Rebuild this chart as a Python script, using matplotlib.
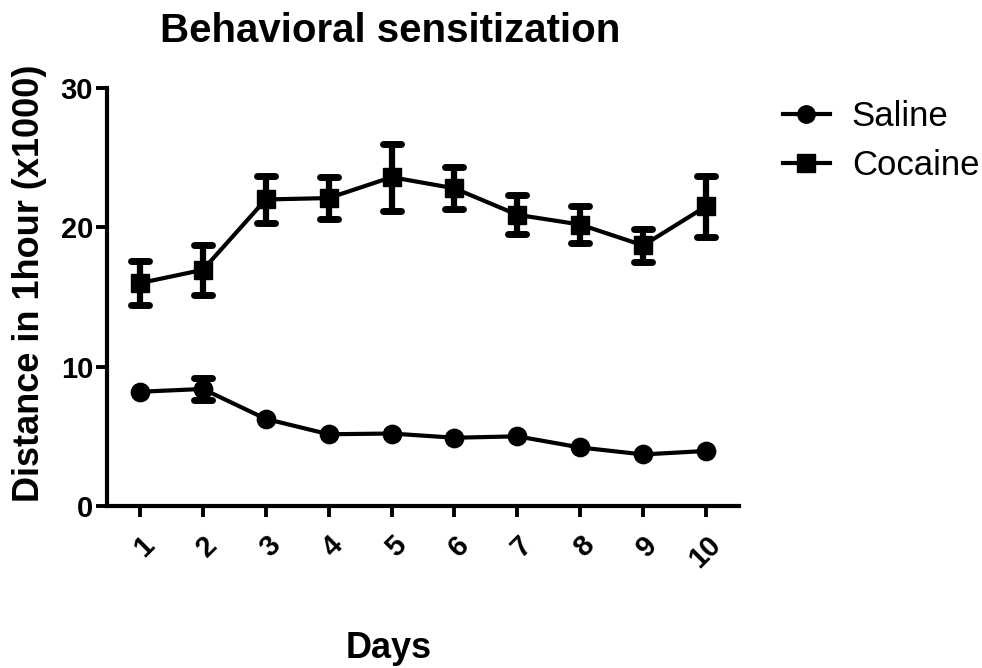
import matplotlib
matplotlib.use("Agg")
import matplotlib.pyplot as plt
from matplotlib.lines import Line2D
from matplotlib.markers import MarkerStyle

plt.rcParams['font.family'] = ['Liberation Sans', 'DejaVu Sans']

days = [1, 2, 3, 4, 5, 6, 7, 8, 9, 10]
day_labels = ["1", "2", "3", "4", "5", "6", "7", "8", "9", "10"]
saline_mean = [8.2, 8.4, 6.25, 5.15, 5.2, 4.9, 5.0, 4.2, 3.7, 3.95]
saline_sem = [0.3, 0.8, 0.3, 0.3, 0.3, 0.3, 0.3, 0.3, 0.3, 0.3]
cocaine_mean = [16.0, 16.95, 22.0, 22.1, 23.6, 22.8, 20.9, 20.2, 18.7, 21.5]
cocaine_sem = [1.6, 1.8, 1.7, 1.5, 2.4, 1.5, 1.4, 1.3, 1.2, 2.2]

fig = plt.figure(figsize=(9.82, 6.68), dpi=100)
ax = fig.add_axes([107/982, 1-506/668, (739-107)/982, (506-88)/668])

MS = 13.2
LW = 3.0


def draw_series(x, y, e, marker):
    ax.plot(x, y, color='black', lw=LW, marker=marker, ms=MS, zorder=3)
    # error bars hidden behind the symbol are not drawn (as in Prism)
    sel = [i for i in range(len(x)) if e[i] > 0.5]
    xs = [x[i] for i in sel]
    ys = [y[i] for i in sel]
    es = [e[i] for i in sel]
    _, caps, _ = ax.errorbar(xs, ys, yerr=es, fmt='none', ecolor='black',
                             elinewidth=4.5, capsize=6.5, capthick=5, zorder=2)
    for c in caps:
        c.set_marker(MarkerStyle('_', capstyle='round'))


draw_series(days, saline_mean, saline_sem, 'o')
draw_series(days, cocaine_mean, cocaine_sem, 's')

ax.set_xlim(0.475, 10.525)
ax.set_ylim(0, 30)
ax.set_yticks([0, 10, 20, 30])
ax.set_xticks(days)
ax.set_xticklabels(day_labels, rotation=45, ha='right', rotation_mode='anchor')
for s in ['top', 'right']:
    ax.spines[s].set_visible(False)
for s in ['left', 'bottom']:
    ax.spines[s].set_linewidth(3)
ax.tick_params(axis='both', length=8, width=2.8, labelsize=21, pad=2)
ax.tick_params(axis='x', pad=10)
for lab in ax.get_xticklabels() + ax.get_yticklabels():
    lab.set_fontweight('bold')

fig.text(30/982, 1-283/668, "Distance in 1hour (x1000)", fontsize=26, fontweight='bold',
         ha='center', va='center', rotation=90)
fig.text(389/982, 1-658/668, "Days", fontsize=26, fontweight='bold', ha='center', va='baseline')
fig.text(390/982, 1-42/668, "Behavioral sensitization", fontsize=29, fontweight='bold',
         ha='center', va='baseline')

handles = [Line2D([], [], color='black', lw=LW, marker='o', ms=12.5),
           Line2D([], [], color='black', lw=LW, marker='s', ms=12.5)]
fig.legend(handles, ["Saline", "Cocaine"], loc='upper left', bbox_to_anchor=(783/982, 1-100/668),
           frameon=False, fontsize=25, handlelength=1.35, handletextpad=0.63, labelspacing=0.47,
           borderpad=0, borderaxespad=0)

fig.savefig("out.png", dpi=100)
